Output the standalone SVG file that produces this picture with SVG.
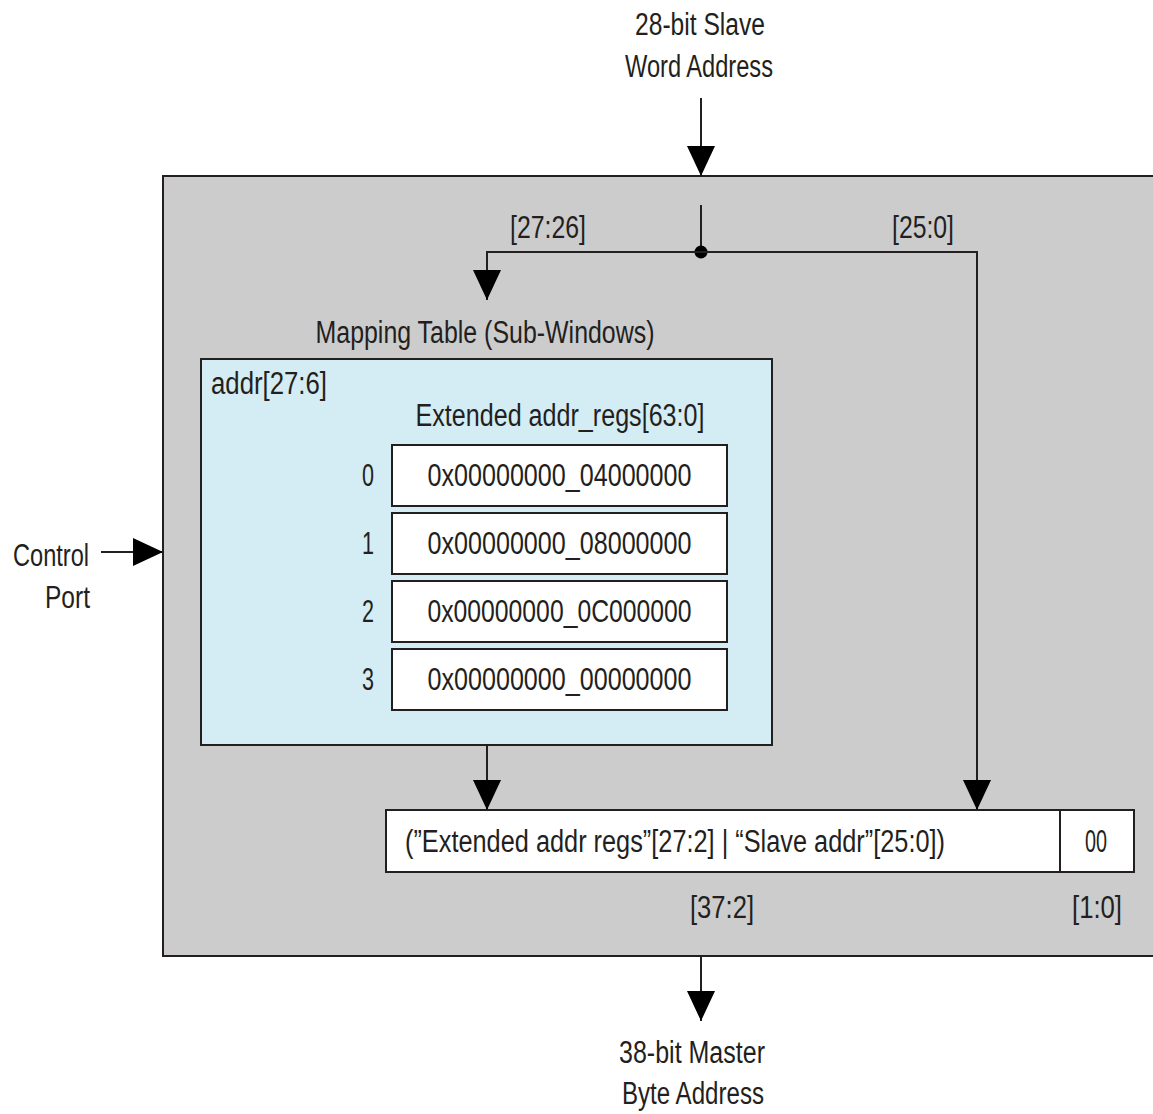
<svg xmlns="http://www.w3.org/2000/svg" width="1153" height="1114" viewBox="0 0 1153 1114">
<defs>
<style>
text{font-family:"Liberation Sans",Arial,sans-serif;font-size:31px;fill:#231f20}
.m{text-anchor:middle}
.e{text-anchor:end}
.ln{stroke:#231f20;stroke-width:2;fill:none}
.box{stroke:#231f20;stroke-width:2}
</style>
<marker id="ah" viewBox="0 0 30 28" markerWidth="30" markerHeight="28" refX="30" refY="14" orient="auto" markerUnits="userSpaceOnUse">
<path d="M0,0 L30,14 L0,28 Z" fill="#000"/>
</marker>
</defs>
<rect width="1153" height="1114" fill="#fff"/>
<g id="outer">
<rect x="163" y="176" width="1000" height="780" fill="#cccccc" class="box"/>
</g>
<g id="mapping-table">
<text x="485" y="343" class="m" textLength="339" lengthAdjust="spacingAndGlyphs">Mapping Table (Sub-Windows)</text>
<rect x="201" y="359" width="571" height="386" fill="#d4ecf3" class="box"/>
<text x="211" y="394" textLength="116" lengthAdjust="spacingAndGlyphs">addr[27:6]</text>
<text x="560" y="426" class="m" textLength="289" lengthAdjust="spacingAndGlyphs">Extended addr_regs[63:0]</text>
</g>
<g id="reg0">
<text x="368" y="486" class="m" textLength="12" lengthAdjust="spacingAndGlyphs">0</text>
<rect x="392" y="445" width="335" height="61" fill="#fff" class="box"/>
<text x="559.5" y="486" class="m" textLength="264" lengthAdjust="spacingAndGlyphs">0x00000000_04000000</text>
</g>
<g id="reg1">
<text x="368" y="554" class="m" textLength="12" lengthAdjust="spacingAndGlyphs">1</text>
<rect x="392" y="513" width="335" height="61" fill="#fff" class="box"/>
<text x="559.5" y="554" class="m" textLength="264" lengthAdjust="spacingAndGlyphs">0x00000000_08000000</text>
</g>
<g id="reg2">
<text x="368" y="622" class="m" textLength="12" lengthAdjust="spacingAndGlyphs">2</text>
<rect x="392" y="581" width="335" height="61" fill="#fff" class="box"/>
<text x="559.5" y="622" class="m" textLength="264" lengthAdjust="spacingAndGlyphs">0x00000000_0C000000</text>
</g>
<g id="reg3">
<text x="368" y="690" class="m" textLength="12" lengthAdjust="spacingAndGlyphs">3</text>
<rect x="392" y="649" width="335" height="61" fill="#fff" class="box"/>
<text x="559.5" y="690" class="m" textLength="264" lengthAdjust="spacingAndGlyphs">0x00000000_00000000</text>
</g>
<g id="result">
<rect x="386" y="810" width="748" height="62" fill="#fff" class="box"/>
<line x1="1060" y1="810" x2="1060" y2="872" class="ln"/>
<text x="405" y="852" textLength="540" lengthAdjust="spacingAndGlyphs">(”Extended addr regs”[27:2] | “Slave addr”[25:0])</text>
<text x="1096" y="852" class="m" textLength="22" lengthAdjust="spacingAndGlyphs">00</text>
<text x="722" y="918" class="m" textLength="64" lengthAdjust="spacingAndGlyphs">[37:2]</text>
<text x="1097" y="918" class="m" textLength="50" lengthAdjust="spacingAndGlyphs">[1:0]</text>
</g>
<g id="labels">
<text x="700" y="35" class="m" textLength="130" lengthAdjust="spacingAndGlyphs">28-bit Slave</text>
<text x="699" y="77" class="m" textLength="148" lengthAdjust="spacingAndGlyphs">Word Address</text>
<text x="89" y="566" class="e" textLength="76" lengthAdjust="spacingAndGlyphs">Control</text>
<text x="90" y="608" class="e" textLength="45" lengthAdjust="spacingAndGlyphs">Port</text>
<text x="692" y="1063" class="m" textLength="146" lengthAdjust="spacingAndGlyphs">38-bit Master</text>
<text x="693" y="1104" class="m" textLength="142" lengthAdjust="spacingAndGlyphs">Byte Address</text>
<text x="548" y="238" class="m" textLength="76" lengthAdjust="spacingAndGlyphs">[27:26]</text>
<text x="923" y="238" class="m" textLength="62" lengthAdjust="spacingAndGlyphs">[25:0]</text>
</g>
<g id="connectors">
<line x1="701" y1="98" x2="701" y2="176" class="ln" marker-end="url(#ah)"/>
<line x1="101" y1="552" x2="163" y2="552" class="ln" marker-end="url(#ah)"/>
<line x1="701" y1="956" x2="701" y2="1021" class="ln" marker-end="url(#ah)"/>
<line x1="701" y1="205" x2="701" y2="252" class="ln"/>
<circle cx="701" cy="252" r="6.5" fill="#000"/>
<path d="M701,252 H487 V300" class="ln" marker-end="url(#ah)"/>
<path d="M701,252 H977 V810" class="ln" marker-end="url(#ah)"/>
<line x1="487" y1="745" x2="487" y2="810" class="ln" marker-end="url(#ah)"/>
</g>
</svg>
